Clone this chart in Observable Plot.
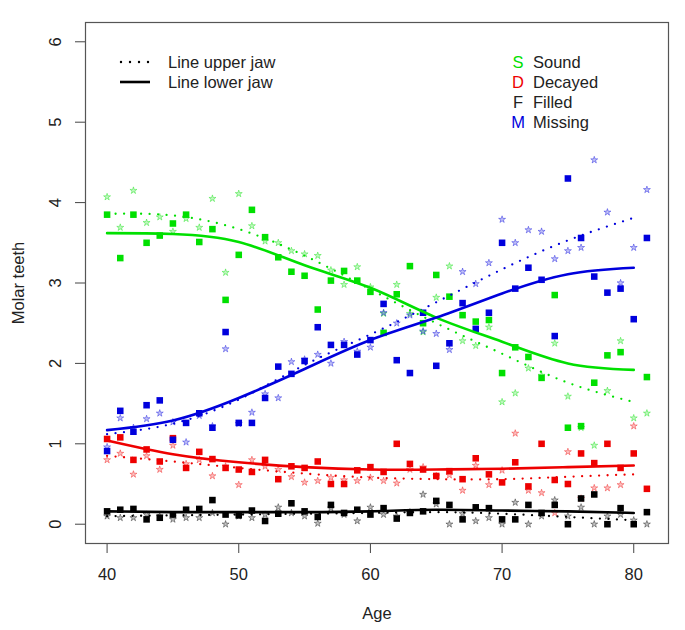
<!DOCTYPE html>
<html>
<head>
<meta charset="utf-8">
<script src="https://cdn.jsdelivr.net/npm/d3@7"></script>
<script src="https://cdn.jsdelivr.net/npm/@observablehq/plot@0.6"></script>
<style>
  html, body { margin: 0; padding: 0; background: #fff; }
  #chart { width: 685px; height: 630px; }
</style>
</head>
<body>
<div id="chart"></div>
<script>
// ---------- data ----------
const ages = [40,41,42,43,44,45,46,47,48,49,50,51,52,53,54,55,56,57,58,59,60,
              61,62,63,64,65,66,67,68,69,70,71,72,73,74,75,76,77,78,79,80,81];

const categories = ["Sound", "Decayed", "Filled", "Missing"];
const catLetters = ["S", "D", "F", "M"];
const catColors  = ["#00e000", "#ee0000", "#000000", "#0000dd"];

// lower jaw (squares)
const soundLower   = [3.85,3.31,3.85,3.50,3.59,3.74,3.85,3.51,3.67,2.79,3.35,3.91,3.57,3.32,3.14,3.09,2.67,3.03,3.15,3.03,2.89,
                      2.38,2.86,3.21,2.50,3.10,2.83,2.60,2.52,2.54,1.88,2.20,2.08,1.82,2.85,1.20,1.22,1.76,2.10,2.14,null,1.83];
const decayedLower = [1.06,1.08,0.80,0.93,0.78,1.07,0.70,0.90,0.81,0.70,0.68,0.65,0.80,0.56,0.72,0.70,0.78,0.50,0.50,0.67,0.71,
                      0.65,1.00,0.75,0.68,0.60,0.66,0.56,0.82,0.62,0.52,0.77,0.47,1.00,0.55,0.50,0.88,0.76,1.00,0.70,0.88,0.44];
const filledLower  = [0.16,0.18,0.19,0.06,0.08,0.12,0.18,0.19,0.30,0.12,0.11,0.17,0.04,0.13,0.26,0.16,0.09,0.24,0.14,0.18,0.12,
                      0.20,0.07,0.14,0.16,0.29,0.24,0.06,0.21,0.20,0.06,0.06,0.24,0.14,0.24,0.00,0.32,0.37,0.00,0.20,0.00,0.15];
const missingLower = [0.91,1.41,1.15,1.48,1.54,1.05,1.26,1.38,1.20,2.39,1.26,1.26,1.57,1.96,1.87,2.03,2.45,2.23,2.23,2.11,2.29,
                      2.74,2.04,1.88,2.63,1.97,2.25,2.75,2.43,2.63,3.50,2.93,3.19,3.04,2.34,4.30,3.56,3.08,2.88,2.93,2.55,3.56];

// upper jaw (stars)
const soundUpper   = [4.07,3.69,4.15,3.75,3.82,3.64,3.80,3.69,4.05,3.13,4.11,3.71,3.52,3.50,3.40,3.36,3.34,3.16,2.98,3.20,2.95,
                      2.62,2.98,2.62,2.39,2.82,3.21,2.28,2.22,2.45,1.52,1.63,1.94,1.85,2.25,1.59,1.20,0.98,1.66,2.28,1.32,1.38];
const decayedUpper = [0.80,0.88,0.62,0.85,0.68,0.98,0.75,0.80,0.60,0.72,0.49,0.80,0.72,0.68,0.59,0.52,0.54,0.58,0.55,0.54,0.58,
                      0.54,0.51,0.68,0.71,0.60,0.61,0.42,0.73,0.49,0.67,1.13,0.42,0.39,0.14,0.90,0.32,0.45,0.45,0.49,1.22,null];
const filledUpper  = [0.10,0.08,0.08,0.12,0.10,0.06,0.08,0.08,0.14,0.00,0.10,0.08,0.12,0.21,0.14,0.10,0.01,0.20,0.12,0.04,0.21,
                      0.12,0.10,0.15,0.37,0.25,0.00,0.13,0.04,0.08,0.00,0.27,0.00,0.10,0.30,0.10,0.21,0.00,0.10,0.12,0.05,0.00];
const missingUpper = [0.96,1.32,1.20,1.31,1.38,1.27,1.02,1.35,1.22,2.18,1.25,1.39,1.62,1.57,2.02,2.05,2.11,2.00,2.27,2.15,2.20,
                      2.63,2.50,2.60,2.40,2.37,2.17,3.14,2.99,3.25,3.79,3.50,3.66,3.64,3.30,3.40,3.44,4.53,3.88,3.00,3.44,4.16];

// fitted lines
const fitAges = [40,45,50,55,60,65,70,75,80];
const soundLowerFit   = [3.62,3.61,3.51,3.22,2.94,2.57,2.27,2.00,1.92];
const soundUpperFit   = [3.86,3.84,3.67,3.34,2.92,2.50,2.12,1.76,1.52];
const decayedLowerFit = [1.04,0.87,0.77,0.71,0.68,0.68,0.69,0.71,0.73];
const decayedUpperFit = [0.85,0.78,0.70,0.63,0.58,0.56,0.56,0.59,0.62];
const filledLowerFit  = [0.16,0.15,0.15,0.15,0.16,0.18,0.17,0.16,0.14];
const filledUpperFit  = [0.10,0.11,0.12,0.13,0.14,0.15,0.13,0.09,0.05];
const missingLowerFit = [1.17,1.29,1.57,1.93,2.29,2.57,2.87,3.11,3.19];
const missingUpperFit = [1.12,1.25,1.55,1.98,2.36,2.76,3.17,3.53,3.81];

const xTicks = [40, 50, 60, 70, 80];
const yTicks = [0, 1, 2, 3, 4, 5, 6];
const xLabel = "Age";
const yLabel = "Molar teeth";
const jawLegend = ["Line upper jaw", "Line lower jaw"];

// ---------- tables ----------
const lowerSeries = [soundLower, decayedLower, filledLower, missingLower];
const upperSeries = [soundUpper, decayedUpper, filledUpper, missingUpper];
const lowerFits = [soundLowerFit, decayedLowerFit, filledLowerFit, missingLowerFit];
const upperFits = [soundUpperFit, decayedUpperFit, filledUpperFit, missingUpperFit];

function pointsTable(series) {
  const rows = [];
  series.forEach((vals, ci) => vals.forEach((v, i) => {
    if (v != null) rows.push({age: ages[i], value: v, cat: categories[ci]});
  }));
  return rows;
}
function fitTable(series) {
  const rows = [];
  series.forEach((vals, ci) => vals.forEach((v, i) => rows.push({age: fitAges[i], value: v, cat: categories[ci]})));
  return rows;
}
const lowerPts = pointsTable(lowerSeries);
const upperPts = pointsTable(upperSeries);
const lowerFit = fitTable(lowerFits);
const upperFit = fitTable(upperFits);

const color = {domain: categories, range: catColors};
const FONT = "Liberation Sans, Arial, Helvetica, sans-serif";
const FS = 16.5;

const chart = Plot.plot({
  width: 685,
  height: 630,
  marginLeft: 85,
  marginRight: 17,
  marginTop: 22,
  marginBottom: 87,
  x: {domain: [38.36, 82.64]},
  y: {domain: [-0.24, 6.24]},
  color,
  style: {fontFamily: FONT, fontSize: FS + "px", background: "#fff", color: "#222"},
  marks: [
    Plot.axisX(xTicks, {tickSize: 10, tickFormat: () => "", label: null, stroke: "#444"}),
    Plot.axisY(yTicks, {tickSize: 10, tickFormat: () => "", label: null, stroke: "#444"}),
    Plot.text(xTicks, {x: d => d, text: d => String(d), frameAnchor: "bottom", dy: 31, lineAnchor: "middle", fontSize: FS, fill: "#222"}),
    Plot.text(yTicks, {y: d => d, text: d => String(d), frameAnchor: "left", dx: -30, rotate: -90, lineAnchor: "middle", textAnchor: "middle", fontSize: FS, fill: "#222"}),
    Plot.text([xLabel], {text: d => d, frameAnchor: "bottom", dy: 70, lineAnchor: "middle", fontSize: FS, fill: "#222"}),
    Plot.text([yLabel], {text: d => d, frameAnchor: "left", dx: -67, rotate: -90, lineAnchor: "middle", textAnchor: "middle", fontSize: FS, fill: "#222"}),
    Plot.dot(upperPts, {x: "age", y: "value", fill: "cat", stroke: "cat", symbol: "star", r: 2.2, fillOpacity: 0.25, strokeOpacity: 0.55, strokeWidth: 0.7}),
    Plot.dot(lowerPts, {x: "age", y: "value", fill: "cat", symbol: "square", r: 3.7, stroke: "none"}),
    Plot.line(upperFit, {x: "age", y: "value", z: "cat", stroke: "cat", curve: "natural", strokeWidth: 2.3, strokeDasharray: "0,8.5", strokeLinecap: "round"}),
    Plot.line(lowerFit, {x: "age", y: "value", z: "cat", stroke: "cat", curve: "natural", strokeWidth: 2.6}),
    Plot.frame({stroke: "#555", strokeWidth: 1.2})
  ]
});

document.getElementById("chart").appendChild(chart);

// ---------- legends ----------
const svg = d3.select(chart);
const lg = svg.append("g").attr("font-family", FONT).attr("font-size", FS).attr("text-anchor", "start");
// line-type legend
lg.append("line").attr("x1", 121).attr("x2", 149).attr("y1", 62).attr("y2", 62)
  .attr("stroke", "#000").attr("stroke-width", 2.4).attr("stroke-linecap", "round").attr("stroke-dasharray", "0,9");
lg.append("line").attr("x1", 120).attr("x2", 150).attr("y1", 82).attr("y2", 82)
  .attr("stroke", "#000").attr("stroke-width", 2.6);
jawLegend.forEach((t, i) => {
  lg.append("text").attr("x", 168).attr("y", 62 + 20 * i).attr("dy", "0.35em")
    .attr("text-anchor", "start").attr("fill", "#222").text(t);
});
// category legend
categories.forEach((c, i) => {
  lg.append("text").attr("x", 518).attr("y", 62 + 20 * i).attr("dy", "0.35em")
    .attr("text-anchor", "middle").attr("fill", catColors[i] === "#000000" ? "#222" : catColors[i]).text(catLetters[i]);
  lg.append("text").attr("x", 533).attr("y", 62 + 20 * i).attr("dy", "0.35em")
    .attr("text-anchor", "start").attr("fill", "#222").text(c);
});
</script>
</body>
</html>
